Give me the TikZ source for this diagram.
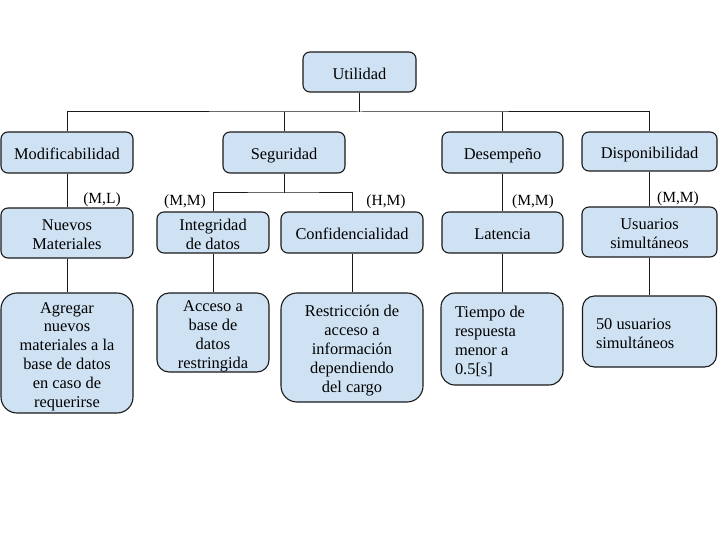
\documentclass[tikz,border=0pt]{standalone}
\usepackage{fontspec}
\setmainfont{Liberation Serif}
\definecolor{boxfill}{HTML}{CFE2F3}
\definecolor{boxline}{HTML}{1A1A1A}
\newcommand\mybt[2]{\raisebox{-3.5pt}[\height][\depth]{\begin{tabular}{@{}#1@{}}#2\end{tabular}}}
\begin{document}
\begin{tikzpicture}[x=1pt,y=-1pt,
  box/.style={draw=boxline, fill=boxfill, line width=1.1pt, rounded corners=7pt,
    inner sep=0pt, font=\fontsize{16.4}{18.9}\selectfont},
  conn/.style={draw=boxline, line width=1pt},
  lbl/.style={inner sep=0pt, font=\fontsize{15.5}{18}\selectfont}]
\useasboundingbox[fill=white] (0,0) rectangle (720,540);
% level 0
\node[box, minimum width=113pt, minimum height=40pt] (util) at (359.5,72) {\mybt{c}{Utilidad}};
% level 1
\node[box, minimum width=132pt, minimum height=41pt] (modif) at (67,152.5) {\mybt{c}{Modificabilidad}};
\node[box, minimum width=122pt, minimum height=41pt] (segu) at (284,152.5) {\mybt{c}{Seguridad}};
\node[box, minimum width=121pt, minimum height=41pt] (desem) at (502.5,152.5) {\mybt{c}{Desempeño}};
\node[box, minimum width=135pt, minimum height=39pt] (dispo) at (649.5,151.5) {\mybt{c}{Disponibilidad}};
% level 2
\node[box, minimum width=132pt, minimum height=50pt] (nuevos) at (67,233) {\mybt{c}{Nuevos\\Materiales}};
\node[box, minimum width=112pt, minimum height=41pt] (integ) at (213,232.5) {\mybt{c}{Integridad\\de datos}};
\node[box, minimum width=142pt, minimum height=41pt] (conf) at (352,232.5) {\mybt{c}{Confidencialidad}};
\node[box, minimum width=121pt, minimum height=41pt] (laten) at (502.5,232.5) {\mybt{c}{Latencia}};
\node[box, minimum width=135pt, minimum height=50pt] (usuar) at (649.5,232) {\mybt{c}{Usuarios\\simultáneos}};
% level 3
\node[box, rounded corners=16pt, minimum width=132pt, minimum height=120pt] (agreg) at (67,353)
  {\mybt{c}{Agregar\\nuevos\\materiales a la\\base de datos\\en caso de\\requerirse}};
\node[box, rounded corners=12pt, minimum width=112pt, minimum height=79pt] (acceso) at (213,332.5)
  {\mybt{c}{Acceso a\\base de\\datos\\restringida}};
\node[box, rounded corners=16pt, minimum width=142pt, minimum height=109pt] (restr) at (352,347.5)
  {\mybt{c}{Restricción de\\acceso a\\información\\dependiendo\\del cargo}};
\node[box, rounded corners=14pt, minimum width=122pt, minimum height=92pt] (tiempo) at (502,339)
  {\mybt{p{94pt}}{Tiempo de\\respuesta\\menor a\\0.5[s]}};
\node[box, rounded corners=12pt, minimum width=134pt, minimum height=71pt] (cincuenta) at (649.5,331.5)
  {\mybt{p{107pt}}{50 usuarios\\simultáneos}};
% buses
\coordinate (bus) at (359.5,112);
\coordinate (sbus) at (284,193);
\draw[conn] (util.south) -- (bus);
\draw[conn] (modif.north) |- (bus) -| (dispo.north);
\draw[conn] (segu.north) -- (segu.north |- bus);
\draw[conn] (desem.north) -- (desem.north |- bus);
\draw[conn] (segu.south) -- (sbus);
\draw[conn] (integ.north) |- (sbus) -| (conf.north);
% verticals
\draw[conn] (modif.south) -- (nuevos.north);
\draw[conn] (nuevos.south) -- (agreg.north);
\draw[conn] (integ.south) -- (acceso.north);
\draw[conn] (conf.south) -- (restr.north);
\draw[conn] (desem.south) -- (laten.north);
\draw[conn] (laten.south) -- (laten.south |- tiempo.north);
\draw[conn] (dispo.south) -- (usuar.north);
\draw[conn] (usuar.south) -- (cincuenta.north);
% labels
\node[lbl] (lml) at (102,200) {(M,L)};
\node[lbl] (lmm1) at (185,202) {(M,M)};
\node[lbl] (lhm) at (386,202) {(H,M)};
\node[lbl] (lmm2) at (533,202) {(M,M)};
\node[lbl] (lmm3) at (678,199) {(M,M)};
\end{tikzpicture}
\end{document}
